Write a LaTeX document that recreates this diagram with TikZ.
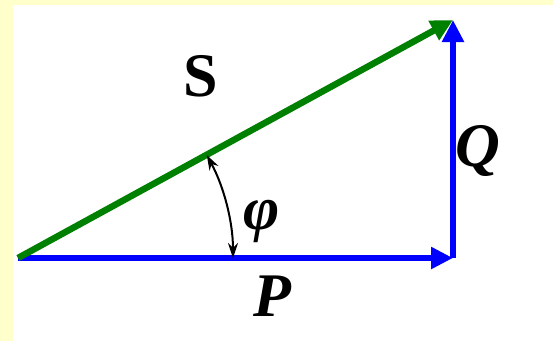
\documentclass[tikz,border=0pt]{standalone}
\usepackage{fontspec}
\setmainfont{Liberation Serif}
\usetikzlibrary{arrows.meta}
\definecolor{bgyellow}{HTML}{FFFFCC}
\definecolor{vgreen}{HTML}{008000}
\definecolor{vblue}{HTML}{0000FF}
\tikzset{
  vec/.style={line width=6.5pt,-{Triangle[length=22pt,width=21pt]}},
  anglearrow/.style={line width=2pt,{Stealth[length=15pt,width=10pt]}-{Stealth[length=15pt,width=10pt]}},
  lbl/.style={font=\fontsize{62}{62}\selectfont\bfseries\itshape, inner sep=0pt},
}
\begin{document}
\begin{tikzpicture}[x=1pt,y=1pt]
  \fill[bgyellow] (0,0) rectangle (553,341);
  \fill[white] (13,0) rectangle (553,336);
  \useasboundingbox (0,0) rectangle (553,341);
  \coordinate (O) at (18,83);
  \coordinate (A) at (453,83);
  \coordinate (B) at (453,321);
  \draw[vec, vblue] (O) -- (A);
  \draw[vec, vblue] (A) -- (B);
  \draw[vec, vgreen] (O) -- (B);
  \draw[anglearrow]
    ([shift={(28.6:215)}]O) arc[start angle=28.6, end angle=0, radius=215];
  \node[lbl, font=\fontsize{62}{62}\selectfont\bfseries] (S) at (201,265) {S};
  \node[lbl] (Q) at (478,190) {Q};
  \node[lbl] (phi) at (262,120) {φ};
  \node[lbl] (P) at (272,45) {P};
\end{tikzpicture}
\end{document}
